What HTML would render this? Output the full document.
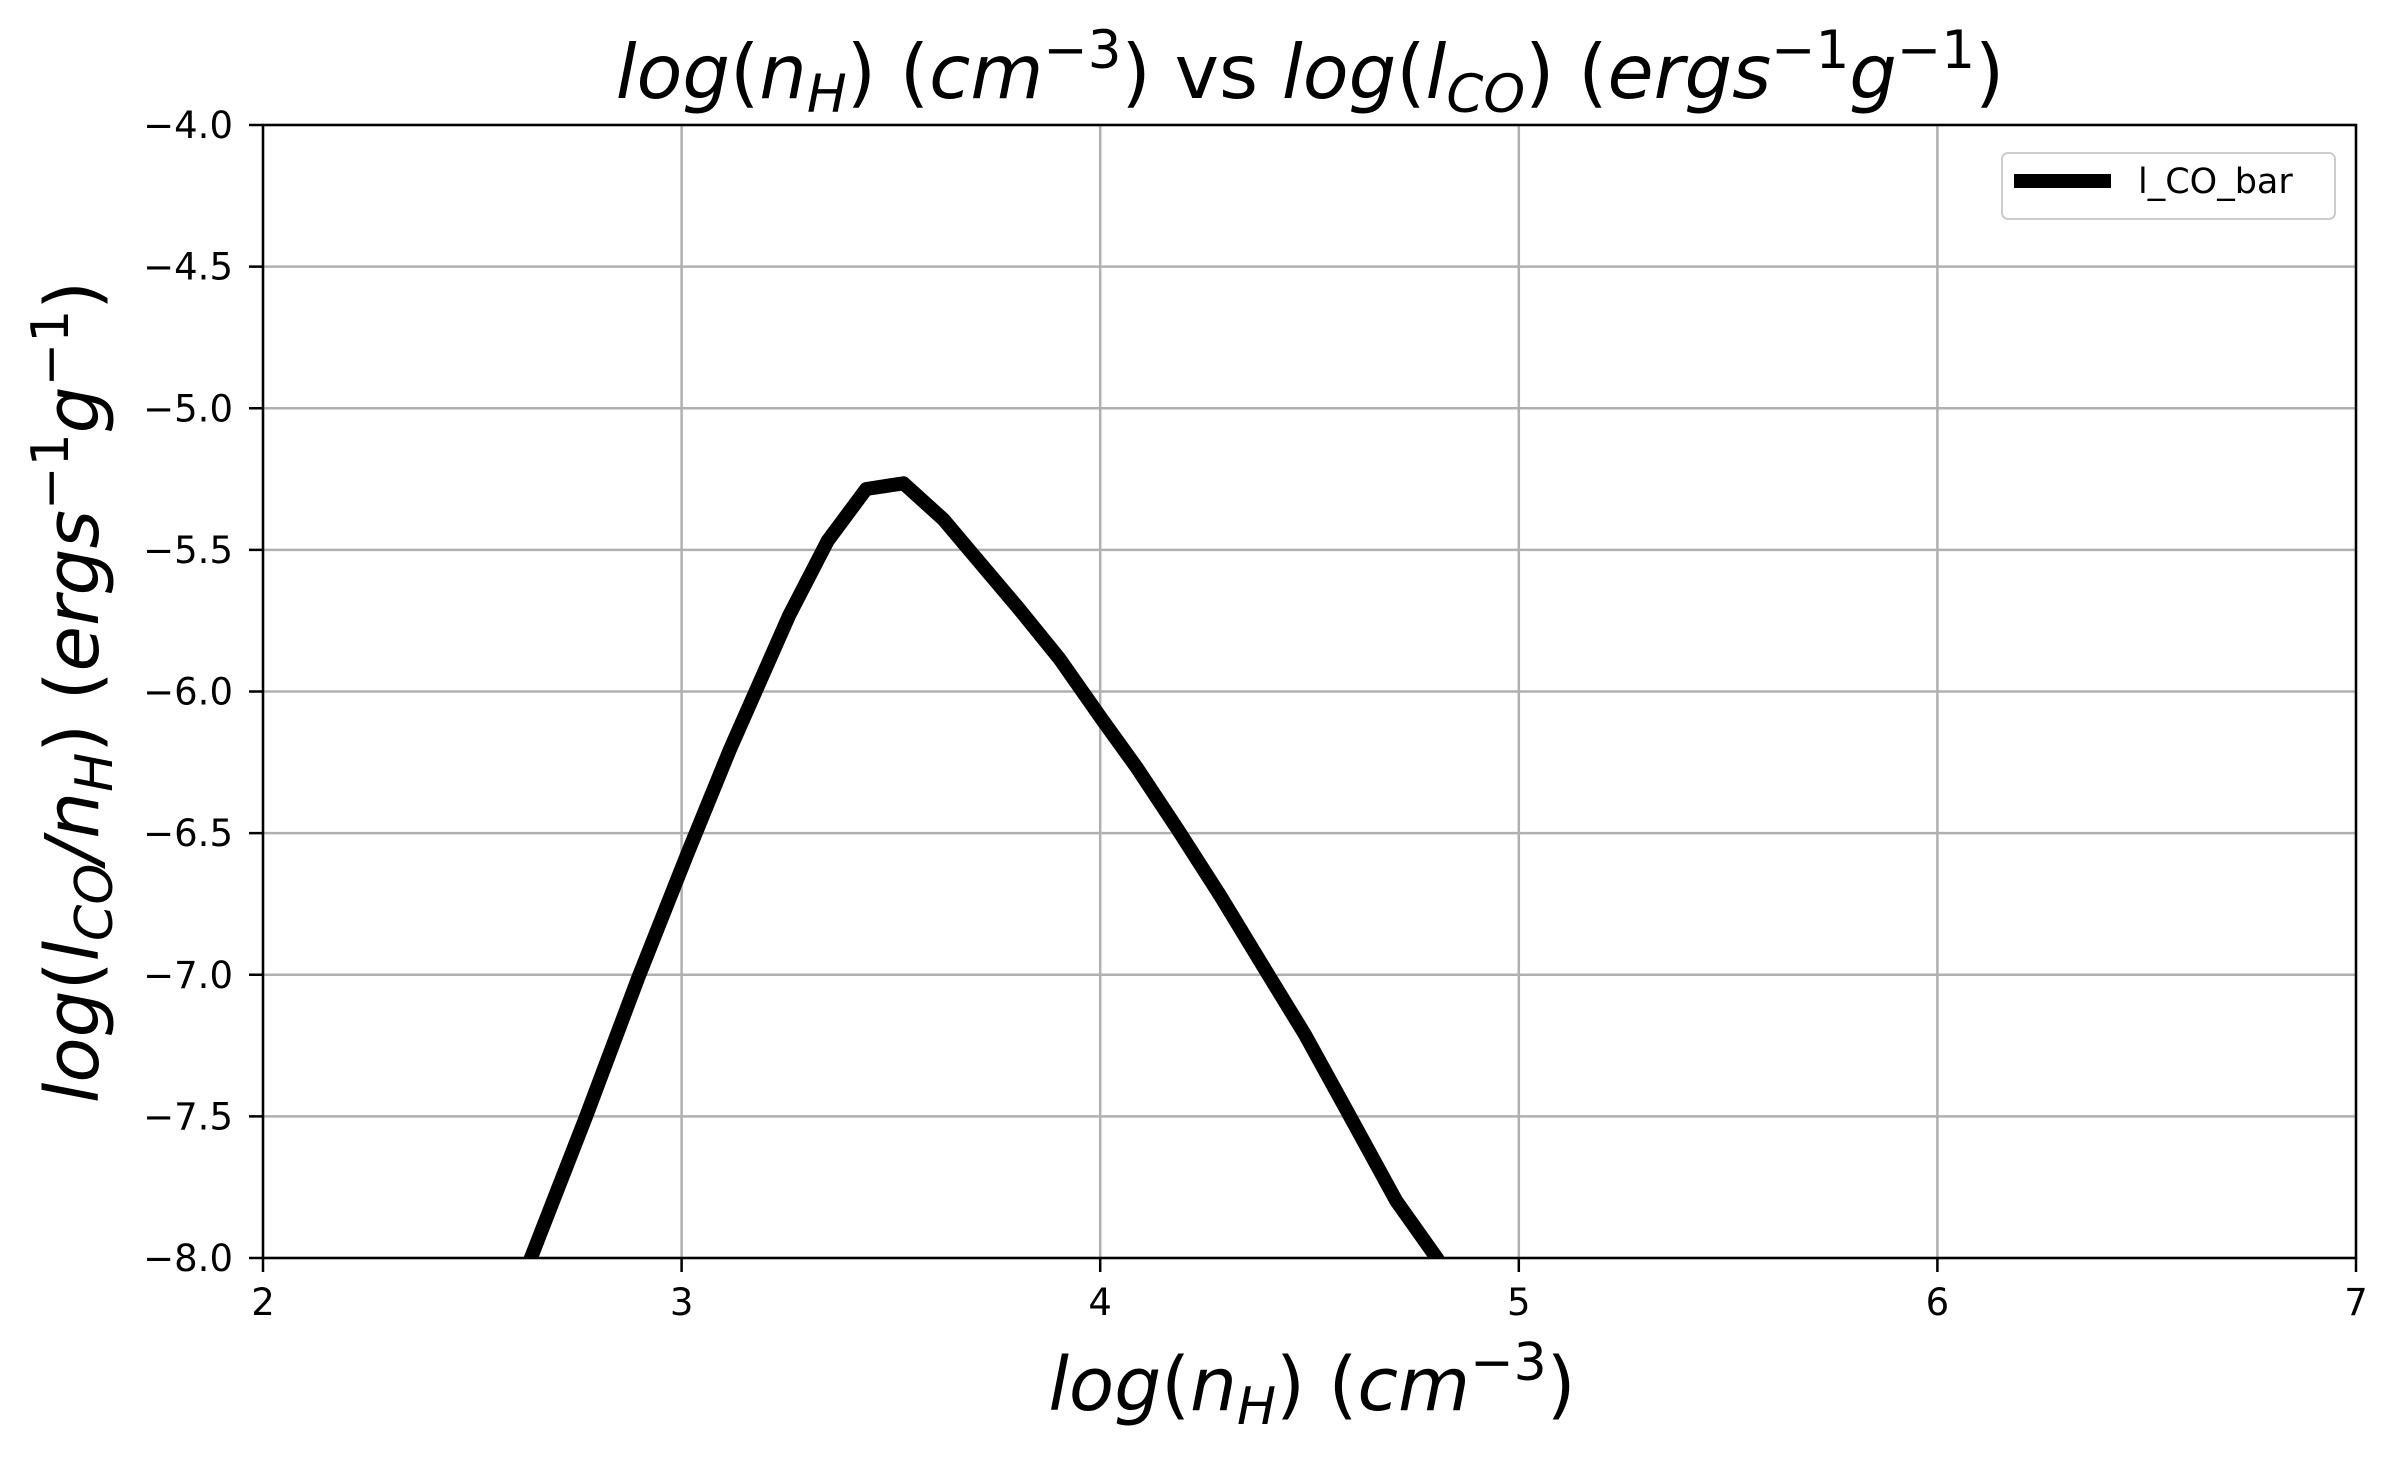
<!DOCTYPE html>
<html><head><meta charset="utf-8"><style>
html,body{margin:0;padding:0;background:#fff;}
svg{display:block;font-family:"DejaVu Sans","Liberation Sans",sans-serif;}
</style></head><body>
<svg id="chart" width="2399" height="1461" viewBox="0 0 2399 1461" xmlns="http://www.w3.org/2000/svg">
<defs><clipPath id="plotclip"><rect x="263" y="125" width="2093" height="1133"/></clipPath></defs>
<rect width="2399" height="1461" fill="#fff"/>
<g id="grid"></g>
<g id="series" clip-path="url(#plotclip)"></g>
<rect x="263" y="125" width="2093" height="1133" fill="none" stroke="#000" stroke-width="2.5"/>
<g id="ticks"></g>
<text x="1310" y="98" font-size="75" text-anchor="middle"><tspan font-style="italic">log</tspan>(<tspan font-style="italic">n</tspan><tspan font-style="italic" font-size="53" dy="14">H</tspan><tspan dy="-14">) (</tspan><tspan font-style="italic">cm</tspan><tspan font-size="53" dy="-30">−3</tspan><tspan dy="30">) vs </tspan><tspan font-style="italic">log</tspan>(<tspan font-style="italic">l</tspan><tspan font-style="italic" font-size="53" dy="14">CO</tspan><tspan dy="-14">) (</tspan><tspan font-style="italic">ergs</tspan><tspan font-size="53" dy="-30">−1</tspan><tspan font-style="italic" dy="30">g</tspan><tspan font-size="53" dy="-30">−1</tspan><tspan dy="30">)</tspan></text>
<text x="1312" y="1410" font-size="74" text-anchor="middle"><tspan font-style="italic">log</tspan>(<tspan font-style="italic">n</tspan><tspan font-style="italic" font-size="52" dy="14">H</tspan><tspan dy="-14">) (</tspan><tspan font-style="italic">cm</tspan><tspan font-size="52" dy="-30">−3</tspan><tspan dy="30">)</tspan></text>
<text x="0" y="0" font-size="74" text-anchor="middle" transform="translate(98,692) rotate(-90)"><tspan font-style="italic">log</tspan>(<tspan font-style="italic">l</tspan><tspan font-style="italic" font-size="52" dy="14">CO</tspan><tspan dy="-14" font-style="italic">/n</tspan><tspan font-style="italic" font-size="52" dy="14">H</tspan><tspan dy="-14">) (</tspan><tspan font-style="italic">ergs</tspan><tspan font-size="52" dy="-30">−1</tspan><tspan font-style="italic" dy="30">g</tspan><tspan font-size="52" dy="-30">−1</tspan><tspan dy="30">)</tspan></text>
<g>
<rect x="2002" y="153" width="333" height="66" rx="6" fill="#fff" stroke="#ccc" stroke-width="2"/>
<line x1="2014" y1="181" x2="2111" y2="181" stroke="#000" stroke-width="14"/>
<text x="2138" y="193" font-size="35">l_CO_bar</text>
</g>
</svg>
<script>
const xTicks=[2,3,4,5,6,7];
const yTicks=[-4.0,-4.5,-5.0,-5.5,-6.0,-6.5,-7.0,-7.5,-8.0];
const xTickLabels=["2","3","4","5","6","7"];
const yTickLabels=["−4.0","−4.5","−5.0","−5.5","−6.0","−6.5","−7.0","−7.5","−8.0"];
const nH=[2.54,2.64,2.771,2.897,3.014,3.115,3.257,3.349,3.441,3.530,3.626,3.709,3.802,3.902,4.003,4.087,4.187,4.288,4.388,4.489,4.606,4.707,4.804,4.90];
const lCO=[-8.32,-8.0,-7.504,-7.008,-6.572,-6.207,-5.731,-5.468,-5.285,-5.265,-5.393,-5.539,-5.701,-5.883,-6.096,-6.268,-6.491,-6.724,-6.967,-7.211,-7.525,-7.798,-8.0,-8.22];
const L=263,R=2356,T=125,B=1258;
const sx=v=>L+(v-2)/(7-2)*(R-L);
const sy=v=>T+(-4-v)/(4)*(B-T);
const NS="http://www.w3.org/2000/svg";
const grid=document.getElementById('grid'),ticks=document.getElementById('ticks'),series=document.getElementById('series');
function mk(tag,attrs,parent){const e=document.createElementNS(NS,tag);for(const k in attrs)e.setAttribute(k,attrs[k]);parent.appendChild(e);return e;}
xTicks.forEach((v,i)=>{
  const x=sx(v);
  const g=mk('line',{x1:x,y1:T,x2:x,y2:B,stroke:'#b0b0b0','stroke-width':2.5},grid);
  
  
  const t=mk('line',{x1:x,y1:B,x2:x,y2:B+14,stroke:'#000','stroke-width':2.5},ticks);
  
  
  const l=mk('text',{x:x,y:B+57,'font-size':37,'text-anchor':'middle'},ticks);
  l.textContent=xTickLabels[i];
  
  
});
yTicks.forEach((v,i)=>{
  const y=sy(v);
  const g=mk('line',{x1:L,y1:y,x2:R,y2:y,stroke:'#b0b0b0','stroke-width':2.5},grid);
  
  
  const t=mk('line',{x1:L-14,y1:y,x2:L,y2:y,stroke:'#000','stroke-width':2.5},ticks);
  
  
  const l=mk('text',{x:L-30,y:y+13,'font-size':37,'text-anchor':'end'},ticks);
  l.textContent=yTickLabels[i];
  
  
});
const pts=nH.map((v,i)=>sx(v).toFixed(1)+','+sy(lCO[i]).toFixed(1)).join(' ');
const line=mk('polyline',{points:pts,fill:'none',stroke:'#000','stroke-width':14,'stroke-linejoin':'round'},series);


</script>
</body></html>
